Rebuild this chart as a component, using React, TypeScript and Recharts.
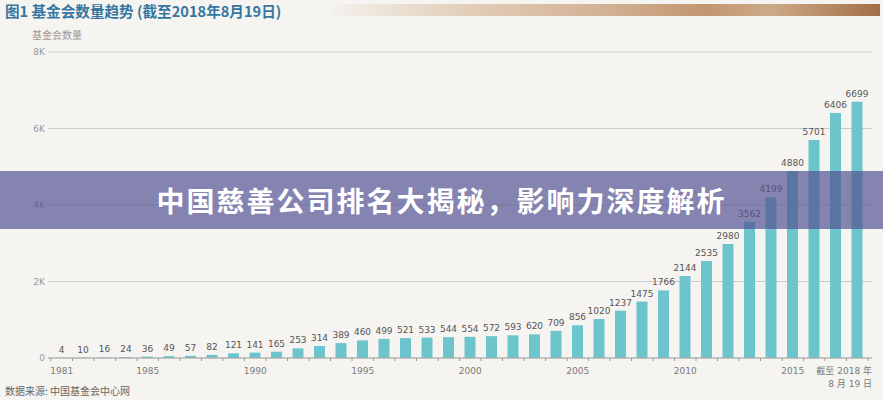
import React from 'react';
import { BarChart, Bar, XAxis, YAxis, CartesianGrid, LabelList } from 'recharts';

const years = [
  1981, 1982, 1983, 1984, 1985, 1986, 1987, 1988, 1989, 1990,
  1991, 1992, 1993, 1994, 1995, 1996, 1997, 1998, 1999, 2000,
  2001, 2002, 2003, 2004, 2005, 2006, 2007, 2008, 2009, 2010,
  2011, 2012, 2013, 2014, 2015, 2016, 2017, 2018,
];
const counts = [
  4, 10, 16, 24, 36, 49, 57, 82, 121, 141,
  165, 253, 314, 389, 460, 499, 521, 533, 544, 554,
  572, 593, 620, 709, 856, 1020, 1237, 1475, 1766, 2144,
  2535, 2980, 3562, 4199, 4880, 5701, 6406, 6699,
];
const shownYears = [1981, 1985, 1990, 1995, 2000, 2005, 2010, 2015];
const lastYear = 2018;
const lastLabelLines = ['截至 2018 年', '8 月 19 日'];
const yTicks = [0, 2000, 4000, 6000, 8000];
const yTickLabels: Record<number, string> = { 0: '0', 2000: '2K', 4000: '4K', 6000: '6K', 8000: '8K' };

const titleText = '图1 基金会数量趋势 (截至2018年8月19日)';
const yAxisTitle = '基金会数量';
const sourceText = '数据来源: 中国基金会中心网';
const bannerText = '中国慈善公司排名大揭秘，影响力深度解析';

const data = years.map((y, i) => ({ year: String(y), count: counts[i] }));

const FONT = '"DejaVu Sans", "Noto Sans CJK SC", sans-serif';

const XTick = (props: any) => {
  const { x, y, payload } = props;
  const half = typeof payload?.offset === 'number' && payload.offset > 0 ? payload.offset : 10.75;
  const yr = Number(payload.value);
  const isLast = yr === lastYear;
  return (
    <g>
      <line x1={x - half} x2={x - half} y1={y} y2={y + 3} stroke="#9a9a9a" strokeWidth={1} />
      {isLast && <line x1={x + half} x2={x + half} y1={y} y2={y + 3} stroke="#9a9a9a" strokeWidth={1} />}
      {shownYears.includes(yr) && (
        <text x={x} y={y + 15.5} textAnchor="middle" fontSize={9} fill="#7a7a7a" fontFamily={FONT}>
          {payload.value}
        </text>
      )}
      {isLast && (
        <text textAnchor="end" fontSize={9} fill="#7a7a7a" fontFamily={FONT}>
          <tspan x={x + half + 4} y={y + 16}>{lastLabelLines[0]}</tspan>
          <tspan x={x + half + 4} y={y + 28.5}>{lastLabelLines[1]}</tspan>
        </text>
      )}
    </g>
  );
};

export default function App() {
  return (
    <div
      style={{
        position: 'absolute',
        left: 0,
        top: 0,
        width: 883,
        height: 400,
        background: '#f5f4f1',
        overflow: 'hidden',
        fontFamily: FONT,
      }}
    >
      <div
        style={{
          position: 'absolute',
          left: 5,
          top: 2,
          fontSize: 14.6,
          lineHeight: '18px',
          fontWeight: 700,
          color: '#3676a0',
          fontFamily: '"Noto Sans CJK SC", sans-serif',
          whiteSpace: 'nowrap',
        }}
      >
        {titleText}
      </div>
      <div
        style={{
          position: 'absolute',
          left: 333,
          top: 4,
          width: 547,
          height: 12,
          background:
            'linear-gradient(to right, rgba(235,222,208,0.15) 0%, #e2cdb8 25%, #d2b193 50%, #c29670 68%, #ccaa88 80%, #b88c66 90%, #a06f46 100%)',
        }}
      />
      <div
        style={{
          position: 'absolute',
          left: 32,
          top: 29,
          fontSize: 10,
          lineHeight: '12px',
          color: '#9a9a9a',
          fontFamily: '"Noto Sans CJK SC", sans-serif',
          whiteSpace: 'nowrap',
        }}
      >
        {yAxisTitle}
      </div>
      <div style={{ position: 'absolute', left: 0, top: 0 }}>
        <BarChart
          width={883}
          height={400}
          data={data}
          margin={{ top: 52, right: 11, bottom: 12, left: 0 }}
        >
          <CartesianGrid vertical={false} stroke="#cbcbcb" strokeWidth={1} />
          <XAxis
            dataKey="year"
            height={30}
            interval={0}
            tickLine={false}
            tickSize={0}
            tickMargin={0}
            axisLine={{ stroke: '#a8a8a8' }}
            padding={{ left: 3, right: 4 }}
            tick={<XTick />}
          />
          <YAxis
            width={48}
            domain={[0, 8000]}
            ticks={yTicks}
            tickLine={false}
            axisLine={false}
            tickSize={0}
            tickMargin={3}
            tickFormatter={(v: number) => yTickLabels[v] ?? String(v)}
            tick={{ fontSize: 9, fill: '#9a9a9a', fontFamily: FONT }}
          />
          <Bar dataKey="count" fill="#6cc4cc" barSize={11} isAnimationActive={false}>
            <LabelList
              dataKey="count"
              position="top"
              offset={5}
              fontSize={9}
              fill="#555555"
              fontFamily={FONT}
            />
          </Bar>
        </BarChart>
      </div>
      <div
        style={{
          position: 'absolute',
          left: 5,
          top: 385,
          fontSize: 10,
          lineHeight: '12px',
          color: '#666666',
          fontFamily: '"Noto Sans CJK SC", sans-serif',
          whiteSpace: 'nowrap',
        }}
      >
        {sourceText}
      </div>
      <div
        style={{
          position: 'absolute',
          left: 0,
          top: 171,
          width: 883,
          height: 58,
          background: 'rgba(82,81,146,0.69)',
          color: '#ffffff',
          fontSize: 28,
          lineHeight: '58px',
          fontWeight: 700,
          letterSpacing: 2,
          textAlign: 'center',
          fontFamily: '"Noto Sans CJK SC", sans-serif',
          whiteSpace: 'nowrap',
        }}
      >
        {bannerText}
      </div>
    </div>
  );
}
